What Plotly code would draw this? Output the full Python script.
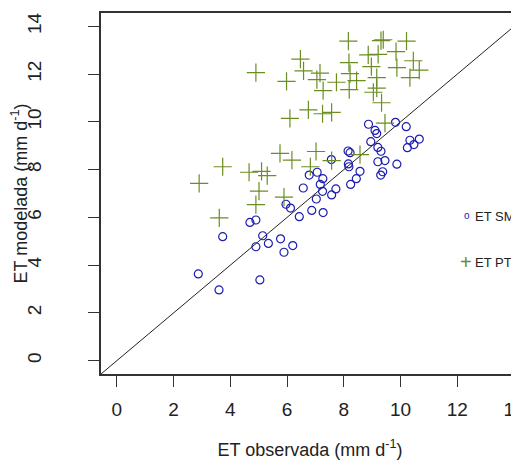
import plotly.graph_objects as go

# ET observada vs ET modelada (mm d-1)
sm_obs = [2.87, 3.60, 3.73, 4.69, 4.90, 4.90, 5.14, 5.34, 5.77, 6.20, 5.89, 5.04,
          5.96, 6.12, 6.43, 6.87, 7.27, 6.57, 7.03, 6.78, 7.06, 7.26, 7.17, 7.25,
          7.72, 7.57, 7.56, 8.15, 8.22, 8.16, 8.18, 8.57, 8.44, 8.24, 8.87, 9.10,
          9.16, 8.95, 9.20, 9.31, 9.20, 9.45, 9.87, 9.37, 9.30, 9.82, 10.20, 10.33,
          10.66, 10.47, 10.24]
sm_mod = [3.63, 2.96, 5.19, 5.79, 5.89, 4.77, 5.23, 4.91, 5.10, 4.82, 4.54, 3.38,
          6.55, 6.39, 6.03, 6.29, 6.20, 7.23, 6.77, 7.77, 7.89, 7.62, 7.38, 7.09,
          7.19, 6.94, 8.42, 8.78, 8.71, 8.24, 8.12, 7.93, 7.62, 7.38, 9.90, 9.64,
          9.51, 9.17, 8.93, 8.77, 8.33, 8.38, 8.23, 7.91, 7.77, 9.98, 9.80, 9.23,
          9.28, 9.05, 8.92]

pt_obs = [2.90, 3.61, 3.73, 4.66, 5.10, 5.30, 5.01, 4.90, 5.89, 5.75, 6.17, 7.02,
          6.82, 7.57, 8.57, 4.90, 6.10, 6.75, 7.25, 7.57, 9.45, 9.33, 5.98, 6.47,
          6.58, 7.05, 7.16, 7.27, 7.74, 8.16, 8.18, 8.22, 8.45, 8.19, 8.86, 9.21,
          8.97, 9.16, 9.16, 9.04, 9.31, 9.39, 10.21, 9.84, 9.87, 10.45, 10.66, 10.33]
pt_mod = [7.42, 5.98, 8.12, 7.89, 7.93, 7.75, 7.10, 6.53, 6.85, 8.68, 8.40, 8.76,
          8.12, 8.38, 8.63, 12.06, 10.15, 10.50, 10.34, 10.40, 9.95, 10.80, 11.70, 12.63,
          12.14, 11.77, 12.04, 11.31, 11.66, 13.38, 12.48, 12.02, 11.73, 11.35, 12.81, 12.83,
          12.31, 11.85, 11.41, 11.24, 13.40, 13.44, 13.38, 12.94, 12.27, 12.56, 12.17, 11.85]

series_names = ["ET SM", "ET PT"]

x_range = [-0.56, 14.175]
y_range = [-0.56, 14.56]
ticks = [0, 2, 4, 6, 8, 10, 12, 14]

SM_COLOR = "#1c1cb0"
PT_COLOR = "#6b8e23"
AX = "#333333"
TXT = "#222222"
FONT = "Liberation Sans, Arial, sans-serif"

fig = go.Figure()

# 1:1 line
fig.add_trace(go.Scatter(
    x=[x_range[0], 15], y=[y_range[0], 15], mode="lines",
    line=dict(color="#222222", width=1), showlegend=False, hoverinfo="skip"))

fig.add_trace(go.Scatter(
    x=sm_obs, y=sm_mod, mode="markers", name=series_names[0],
    marker=dict(symbol="circle-open", size=8, color=SM_COLOR,
                line=dict(width=1.2, color=SM_COLOR))))

fig.add_trace(go.Scatter(
    x=pt_obs, y=pt_mod, mode="markers", name=series_names[1],
    marker=dict(symbol="cross-thin-open", size=13, color=PT_COLOR,
                line=dict(width=1.2, color=PT_COLOR))))

# legend drawn as text keys
legend_annots = [
    dict(text="o", x=0.8749, y=0.440, xanchor="center", yanchor="middle",
         font=dict(size=10, family=FONT, color=SM_COLOR)),
    dict(text=series_names[0], x=0.8935, y=0.4363, xanchor="left", yanchor="middle",
         font=dict(size=13, family=FONT, color=TXT)),
    dict(text="+", x=0.8727, y=0.3100, xanchor="center", yanchor="middle",
         font=dict(size=20, family=FONT, color=PT_COLOR)),
    dict(text=series_names[1], x=0.8920, y=0.3075, xanchor="left", yanchor="middle",
         font=dict(size=13, family=FONT, color=TXT)),
]
for a in legend_annots:
    a.update(xref="paper", yref="paper", showarrow=False, borderpad=0)

fig.update_layout(
    width=511, height=452,
    margin=dict(l=93, r=0, t=5, b=86, autoexpand=False),
    paper_bgcolor="white", plot_bgcolor="white",
    font=dict(family=FONT, color=TXT),
    showlegend=False,
    annotations=legend_annots,
    xaxis=dict(range=x_range, tickvals=ticks, showgrid=False, zeroline=False,
               showline=True, mirror=True, linecolor=AX, linewidth=1.5,
               ticks="outside", ticklen=11, tickwidth=1.3, tickcolor=AX,
               tickfont=dict(size=19, family=FONT, color=TXT),
               ticklabelstandoff=6, ticklabeloverflow="allow", automargin=False,
               title=dict(text="ET observada (mm d<sup>-1</sup>)", standoff=32,
                          font=dict(size=18, family=FONT, color=TXT))),
    yaxis=dict(range=y_range, tickvals=ticks, showgrid=False, zeroline=False,
               showline=True, mirror=False, linecolor=AX, linewidth=1.5,
               ticks="outside", ticklen=11, tickwidth=1.3, tickcolor=AX,
               tickangle=-90,
               tickfont=dict(size=19, family=FONT, color=TXT),
               ticklabelstandoff=40, ticklabeloverflow="allow", automargin=False,
               title=dict(text="ET modelada (mm d<sup>-1</sup>)", standoff=16,
                          font=dict(size=18, family=FONT, color=TXT))),
)

fig.write_html("out.html")
